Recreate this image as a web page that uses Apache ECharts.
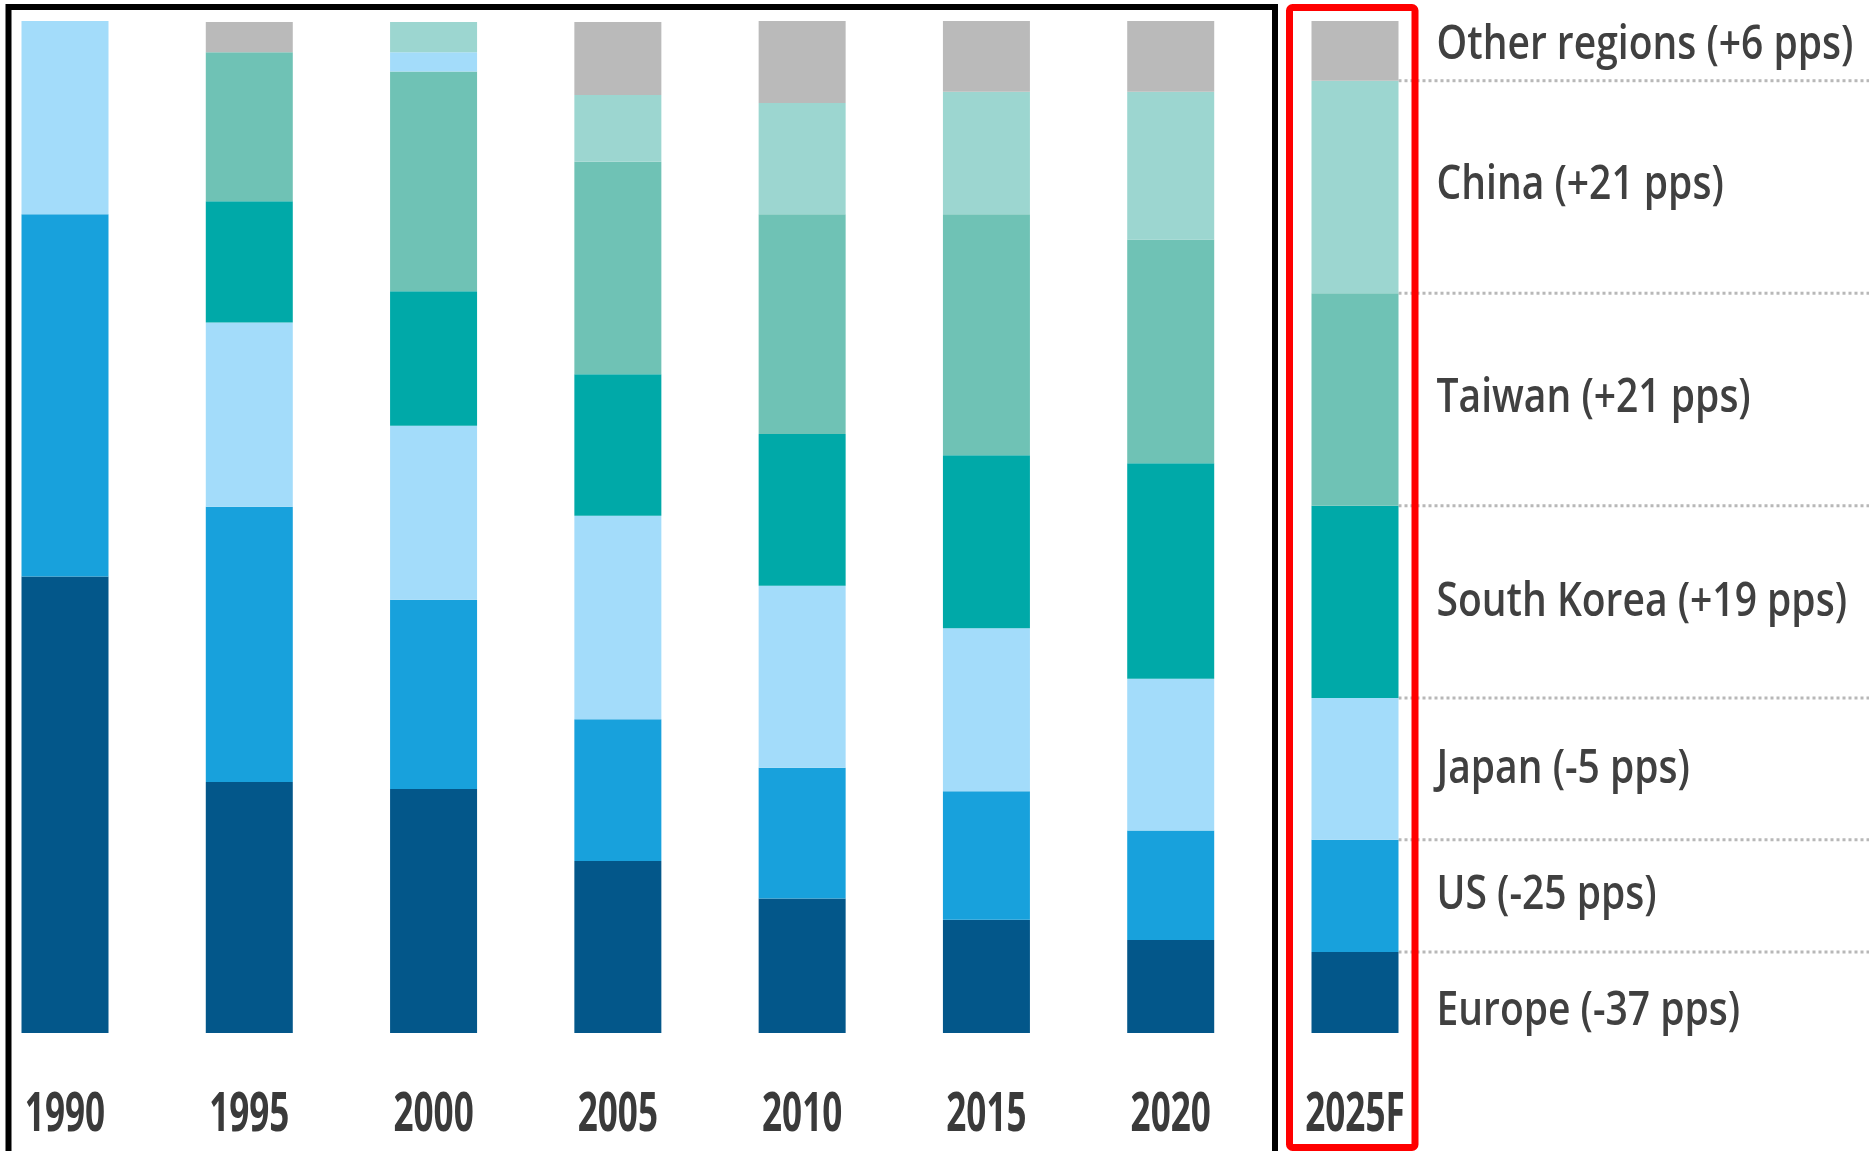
<!DOCTYPE html>
<html>
<head>
<meta charset="utf-8">
<script src="https://cdn.jsdelivr.net/npm/echarts@6/dist/echarts.min.js"></script>
<style>
html,body{margin:0;padding:0;background:#fff;}
#chart{width:1869px;height:1151px;}
</style>
</head>
<body>
<div id="chart"></div>
<script>
// ---- data (share of global capacity, %) ----
const years = ['1990', '1995', '2000', '2005', '2010', '2015', '2020', '2025F'];
const regions = ['Europe', 'US', 'Japan', 'South Korea', 'Taiwan', 'China', 'Other regions'];
const changes = ['-37 pps', '-25 pps', '-5 pps', '+19 pps', '+21 pps', '+21 pps', '+6 pps'];
const europe     = [45.1, 24.8, 24.1, 17.0, 13.3, 11.2, 9.2, 8.0];
const us         = [35.8, 27.2, 18.7, 14.0, 12.9, 12.7, 10.8, 11.1];
const japan      = [19.1, 18.2, 17.2, 20.1, 18.0, 16.1, 15.0, 14.0];
const southKorea = [0, 12.0, 13.3, 14.0, 15.0, 17.1, 21.3, 19.0];
const taiwan     = [0, 14.7, 21.7, 21.0, 21.7, 23.8, 22.1, 21.0];
const china      = [0, 0, 1.9, 6.6, 11.0, 12.1, 14.6, 21.0];
const other      = [0, 3.0, 3.0, 7.2, 8.1, 7.0, 7.0, 5.9];

// ---- styles ----
const seriesValues = [europe, us, japan, southKorea, taiwan, china, other];
const colors = ['#03578a', '#18a1dc', '#a3dcfa', '#00a9a8', '#6fc2b5', '#9cd6d0', '#bababa'];
const labelDy = [19, 0, 1, 1, -1, -1, -5];
const FONT = '"Open Sans", "Noto Sans", sans-serif';
const BAR_W = 87;
const lastIdx = years.length - 1;

// colour quirks of the source image for the 2000 column
const itemColorOverride = { '5-2': colors[2], '6-2': colors[5] };

const barSeries = seriesValues.map((vals, s) => ({
  name: regions[s],
  type: 'bar',
  stack: 'total',
  barWidth: BAR_W,
  clip: false,
  itemStyle: { color: colors[s] },
  data: vals.map((v, i) => {
    const item = { value: v };
    const ov = itemColorOverride[s + '-' + i];
    if (ov) item.itemStyle = { color: ov };
    return item;
  })
}));

// boundaries of the forecast column (dotted guide lines)
const boundaries = [];
let acc = 0;
for (let s = 0; s < seriesValues.length - 1; s++) {
  acc += seriesValues[s][lastIdx];
  boundaries.push([lastIdx, acc]);
}

const guideSeries = {
  type: 'custom',
  clip: false,
  silent: true,
  z: 1,
  data: boundaries,
  renderItem: function (params, api) {
    const p = api.coord([api.value(0), api.value(1)]);
    return {
      type: 'line',
      shape: { x1: p[0] + BAR_W / 2, y1: p[1], x2: api.getWidth(), y2: p[1] },
      style: { stroke: '#b8b8b8', lineWidth: 3, lineDash: [3, 3] }
    };
  }
};

const chart = echarts.init(document.getElementById('chart'));
chart.setOption({
  animation: false,
  backgroundColor: '#ffffff',
  grid: { left: 65, right: 514, top: 21, bottom: 118, containLabel: false },
  xAxis: {
    type: 'category',
    data: years,
    boundaryGap: false,
    axisLine: { show: false },
    axisTick: { show: false },
    axisLabel: { show: false }
  },
  yAxis: { type: 'value', min: 0, max: 100, show: false },
  series: barSeries.concat([guideSeries])
});

// ---- texts (horizontally condensed like the source) placed through the axes ----
const finder = { xAxisIndex: 0, yAxisIndex: 0 };
const graphics = [
  {
    type: 'rect', z: 100,
    shape: { x: 8.5, y: 7, width: 1266.5, height: 1200 },
    style: { fill: 'none', stroke: '#000000', lineWidth: 6 }
  },
  {
    type: 'rect', z: 100,
    shape: { x: 1289.5, y: 7.5, width: 125.5, height: 1140, r: 3 },
    style: { fill: 'none', stroke: '#ff0000', lineWidth: 7 }
  }
];

years.forEach((yr, i) => {
  const p = chart.convertToPixel(finder, [i, 0]);
  graphics.push({
    type: 'text', z: 50,
    x: p[0], y: p[1] + 83,
    scaleX: 0.65,
    style: {
      text: yr, fontFamily: FONT, fontWeight: 'bold', fontSize: 54,
      fill: '#3a3a3a', align: 'center', verticalAlign: 'middle'
    }
  });
});

let cum = 0;
regions.forEach((name, s) => {
  const v = seriesValues[s][lastIdx];
  const pb = chart.convertToPixel(finder, [lastIdx, cum]);
  const pt = chart.convertToPixel(finder, [lastIdx, cum + v]);
  cum += v;
  graphics.push({
    type: 'text', z: 50,
    x: pb[0] + BAR_W / 2 + 38, y: (pb[1] + pt[1]) / 2 + labelDy[s],
    scaleX: 0.83,
    style: {
      text: name + ' (' + changes[s] + ')', fontFamily: FONT, fontWeight: 600, fontSize: 47,
      fill: '#404040', align: 'left', verticalAlign: 'middle'
    }
  });
});

chart.setOption({ graphic: graphics });
</script>
</body>
</html>
